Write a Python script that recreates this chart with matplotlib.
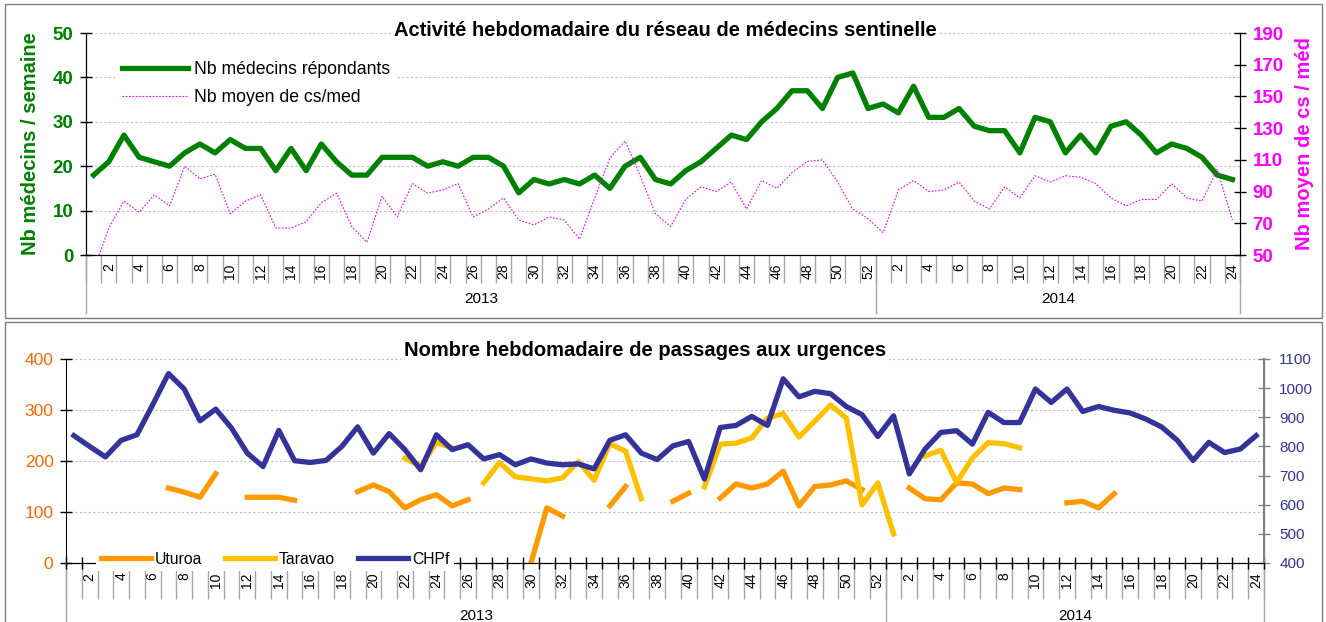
import numpy as np
import matplotlib
matplotlib.use("Agg")
import matplotlib.pyplot as plt
from matplotlib.patches import Rectangle

plt.rcParams['font.family'] = ['Liberation Sans', 'DejaVu Sans']

nan = np.nan
weeks_2013 = list(range(1, 53))
weeks_2014 = list(range(1, 25))
years = ['2013', '2014']

nb_medecins = [18, 21, 27, 22, 21, 20, 23, 25, 23, 26, 24, 24, 19, 24, 19, 25, 21, 18, 18, 22,
               22, 22, 20, 21, 20, 22, 22, 20, 14, 17, 16, 17, 16, 18, 15, 20, 22, 17, 16, 19,
               21, 24, 27, 26, 30, 33, 37, 37, 33, 40, 41, 33,
               34, 32, 38, 31, 31, 33, 29, 28, 28, 23, 31, 30, 23, 27, 23, 29, 30, 27, 23, 25,
               24, 22, 18, 17]
nb_cs_med = [40, 67, 84, 77, 88, 81, 106, 98, 101, 76, 84, 88, 67, 67, 71, 83, 89, 68, 58, 87,
             74, 95, 89, 91, 95, 74, 79, 86, 72, 69, 74, 72, 60, 86, 111, 122, 100, 76, 68, 85,
             93, 90, 96, 79, 97, 92, 102, 109, 110, 96, 79, 73,
             64, 91, 97, 90, 91, 96, 84, 79, 93, 86, 100, 96, 100, 99, 95, 86, 81, 85, 85, 95,
             86, 84, 104, 72]

uturoa = [nan, nan, nan, nan, nan, nan, 147, 139, 129, 175, nan, 129, 129, 129, 123, nan, nan, nan, 140, 153,
          140, 108, 124, 134, 112, 124, nan, nan, nan, 0, 108, 92, nan, nan, 112, 150, nan, nan, 121, 137,
          nan, 127, 155, 147, 155, 180, 112, 150, 153, 161, 144, nan,
          nan, 147, 126, 124, 157, 155, 136, 147, 144, nan, nan, 118, 121, 108, 136, nan, nan, nan, nan, nan,
          nan, nan, nan, nan]
taravao = [nan, nan, nan, nan, nan, nan, nan, nan, nan, nan, nan, nan, nan, nan, nan, nan, nan, nan, nan, nan,
           nan, 205, 190, 236, 226, nan, 157, 197, 169, 165, 161, 167, 199, 162, 234, 219, 126, nan, nan, nan,
           149, 233, 235, 245, 284, 293, 247, 278, 310, 284, 114, 157,
           57, nan, 210, 221, 158, 206, 236, 234, 226, nan, nan, nan, nan, nan, nan, nan, nan, nan, nan, nan,
           nan, nan, nan, nan]
chpf = [837, 800, 764, 821, 840, 943, 1050, 997, 888, 928, 863, 777, 731, 855, 751, 745, 752, 800, 867, 777,
        844, 789, 720, 840, 789, 806, 757, 772, 737, 757, 743, 737, 740, 723, 821, 840, 777, 755, 802, 817,
        688, 865, 872, 903, 872, 1032, 970, 989, 981, 937, 909, 834,
        905, 706, 791, 848, 854, 808, 917, 882, 882, 997, 951, 997, 920, 937, 924, 915, 894, 867, 821, 752,
        814, 779, 791, 837]

title_top = "Activité hebdomadaire du réseau de médecins sentinelle"
title_bot = "Nombre hebdomadaire de passages aux urgences"

GREEN = '#008000'
MAGENTA = '#FF00FF'
ORANGE = '#FF9900'
YELLOW = '#FFC000'
NAVY = '#333399'
GRID = '#BFBFBF'
SEP = '#A6A6A6'

W, H = 1326, 622
fig = plt.figure(figsize=(W / 100, H / 100), dpi=100)


def rect(l, t, r, b):
    return [l / W, 1 - b / H, (r - l) / W, (b - t) / H]


# panel frames
fig.patches.append(Rectangle((5 / W, 1 - 318 / H), 1317 / W, 314 / H, transform=fig.transFigure,
                             fill=False, ec='#7F7F7F', lw=1.0))
fig.patches.append(Rectangle((5 / W, 1 - 640 / H), 1317 / W, 318 / H, transform=fig.transFigure,
                             fill=False, ec='#7F7F7F', lw=1.0, clip_on=False))

n13 = len(weeks_2013)
n14 = len(weeks_2014)
n = n13 + n14
x = np.arange(n)
labels = [str(w) if w % 2 == 0 else '' for w in weeks_2013 + weeks_2014]
major_pos = [i for i, l in enumerate(labels) if l]
major_lab = [labels[i] for i in major_pos]
bounds = np.arange(n + 1) - 0.5
year_bounds = [-0.5, n13 - 0.5, n - 0.5]
year_centers = [(n13 - 1) / 2, n13 + (n14 - 1) / 2]


def setup_xaxis(ax, sep_len, label_pad, year_y, sep_ymin, xlabsize):
    ax.set_xlim(-0.5, n - 0.5)
    ax.set_xticks(major_pos)
    ax.set_xticklabels(major_lab, rotation=90, fontsize=xlabsize)
    ax.set_xticks(bounds, minor=True)
    ax.tick_params(axis='x', which='major', length=0, pad=label_pad)
    ax.tick_params(axis='x', which='minor', length=sep_len, color=SEP, width=1.0, direction='out')
    for xb in year_bounds:
        ax.axvline(xb, ymin=sep_ymin, ymax=0, color=SEP, lw=1.0, clip_on=False)
    for yc, yl in zip(year_centers, years):
        ax.text(yc, year_y, yl, transform=ax.get_xaxis_transform(), ha='center', va='center',
                fontsize=11)


# ---------------- top chart ----------------
ax1 = fig.add_axes(rect(86, 33, 1240, 255))
ax1.plot(x, nb_medecins, color=GREEN, lw=3.8, label='Nb médecins répondants', zorder=3)
ax1.set_ylim(0, 50)
ax1.set_yticks(range(0, 51, 10))
ax1.yaxis.grid(True, color=GRID, ls=(0, (2, 2)), lw=0.8)
ax1.set_axisbelow(True)
ax1.tick_params(axis='y', direction='inout', length=8, width=1, labelsize=13.5, labelcolor=GREEN,
                pad=5)
for t in ax1.get_yticklabels():
    t.set_fontweight('bold')
ax1.spines['top'].set_visible(False)
ax1.set_ylabel('Nb médecins / semaine', color=GREEN, fontsize=14.5, fontweight='bold', labelpad=9)
setup_xaxis(ax1, 20, 6, -0.2, -0.26, 10)

ax1b = ax1.twinx()
ax1b.plot(x, nb_cs_med, color=MAGENTA, lw=0.8, ls=(0, (1.5, 1.5)), label='Nb moyen de cs/med')
ax1b.set_ylim(50, 190)
ax1b.set_yticks(range(50, 191, 20))
ax1b.tick_params(axis='y', direction='inout', length=8, width=1, labelsize=13.5, labelcolor=MAGENTA,
                 pad=5)
for t in ax1b.get_yticklabels():
    t.set_fontweight('bold')
ax1b.spines['top'].set_visible(False)
ax1b.set_ylabel('Nb moyen de cs / méd', color=MAGENTA, fontsize=14.5, fontweight='bold', labelpad=8)

h1, l1 = ax1.get_legend_handles_labels()
h2, l2 = ax1b.get_legend_handles_labels()
leg1 = ax1b.legend(h1 + h2, l1 + l2, loc='upper left', bbox_to_anchor=(108 / W, 1 - 47 / H),
                   bbox_transform=fig.transFigure, fontsize=12.7, handlelength=3.75,
                   handletextpad=0.35, labelspacing=0.62, frameon=True, fancybox=False,
                   framealpha=1, facecolor='white', edgecolor='none', borderpad=0.3)

fig.text(665 / W, 1 - 31 / H, title_top, ha='center', va='center', fontsize=14.5, fontweight='bold',
         bbox=dict(fc='white', ec='none', pad=2))

# ---------------- bottom chart ----------------
ax2 = fig.add_axes(rect(66, 359, 1264, 563))
ax2.plot(x, uturoa, color=ORANGE, lw=3.8, label='Uturoa', zorder=3)
ax2.plot(x, taravao, color=YELLOW, lw=3.8, label='Taravao', zorder=3)
ax2.set_ylim(0, 400)
ax2.set_yticks(range(0, 401, 100))
ax2.yaxis.grid(True, color=GRID, ls=(0, (2, 2)), lw=0.8)
ax2.set_axisbelow(True)
ax2.tick_params(axis='y', direction='inout', length=8, width=1, labelsize=12.5, labelcolor='#FF6600',
                pad=5)
ax2.spines['top'].set_visible(False)
setup_xaxis(ax2, 26, 7, -0.26, -0.35, 10)

ax2b = ax2.twinx()
ax2b.plot(x, chpf, color=NAVY, lw=3.8, label='CHPf', zorder=3)
ax2b.set_ylim(400, 1100)
ax2b.set_yticks(range(400, 1101, 100))
ax2b.tick_params(axis='y', direction='inout', length=8, width=1, color='#808080', labelsize=11,
                 labelcolor=NAVY, pad=7)
ax2b.spines['right'].set_color('#808080')
ax2b.spines['right'].set_linewidth(1.5)
ax2b.spines['top'].set_visible(False)
ax2b.spines['left'].set_visible(False)
ax2b.spines['bottom'].set_color('black')
ax2b.xaxis.set_visible(True)
ax2b.tick_params(axis='x', which='minor', direction='inout', length=9, color='black', width=1,
                 labelbottom=False)
ax2b.tick_params(axis='x', which='major', length=0, labelbottom=False)

h1, l1 = ax2.get_legend_handles_labels()
h2, l2 = ax2b.get_legend_handles_labels()
leg2 = ax2b.legend(h1 + h2, l1 + l2, loc='center left', bbox_to_anchor=(88 / W, 1 - 559 / H),
                   bbox_transform=fig.transFigure, ncol=3, fontsize=11.3, handlelength=3.2,
                   handletextpad=0.25, columnspacing=1.45, frameon=True, fancybox=False,
                   framealpha=1, facecolor='white', edgecolor='none', borderpad=0.3)

fig.text(645 / W, 1 - 351 / H, title_bot, ha='center', va='center', fontsize=14.5, fontweight='bold',
         bbox=dict(fc='white', ec='none', pad=2))

fig.savefig('out.png', dpi=100)
